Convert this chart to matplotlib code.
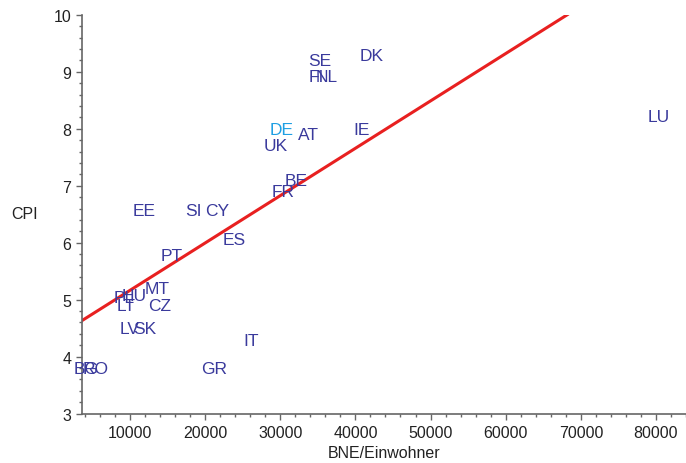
import matplotlib.pyplot as plt
from matplotlib.ticker import MultipleLocator

# country codes, GNI per capita (BNE/Einwohner) and CPI
laender = ['SE', 'FI', 'NL', 'DK', 'DE', 'AT', 'UK', 'IE', 'BE', 'FR', 'LU',
           'EE', 'SI', 'CY', 'ES', 'PT', 'MT', 'HU', 'PL', 'LT', 'CZ', 'LV',
           'SK', 'IT', 'GR', 'BG', 'RO']
bne = [35300, 34760, 36220, 42210, 30230, 33690, 29430, 40870, 32090, 30360, 80400,
       11860, 18380, 21580, 23840, 15590, 13590, 10530, 9200, 9470, 13990, 10000,
       11990, 26100, 21180, 4150, 5480]
cpi = [9.19, 8.91, 8.91, 9.29, 7.99, 7.89, 7.70, 7.99, 7.10, 6.89, 8.21,
       6.57, 6.57, 6.57, 6.06, 5.78, 5.19, 5.07, 5.03, 4.89, 4.89, 4.49,
       4.49, 4.28, 3.79, 3.79, 3.79]

# regression line
line_x = [3570, 68200]
line_y = [4.63, 10.0]

plt.rcParams['font.family'] = ['Liberation Sans', 'DejaVu Sans']

fig = plt.figure(figsize=(6.86, 4.64), dpi=100)
ax = fig.add_axes([0.1191, 0.1063, 0.8809, 0.8598])

for land, x, y in zip(laender, bne, cpi):
    farbe = '#1E9FE3' if land == 'DE' else '#3A3A9C'
    ax.text(x, y, land, color=farbe, fontsize=12.5, ha='center', va='center')

ax.plot(line_x, line_y, color='#E82020', linewidth=2.2)

ax.set_xlim(3570, 84000)
ax.set_ylim(3, 10)
ax.xaxis.set_major_locator(MultipleLocator(10000))
ax.xaxis.set_minor_locator(MultipleLocator(2000))
ax.yaxis.set_major_locator(MultipleLocator(1))
ax.yaxis.set_minor_locator(MultipleLocator(0.2))

for s in ['top', 'right']:
    ax.spines[s].set_visible(False)
for s in ['left', 'bottom']:
    ax.spines[s].set_color('#666666')
    ax.spines[s].set_linewidth(1.2)
ax.tick_params(which='major', length=4, width=1, color='#666666', labelsize=11.5, labelcolor='#222222')
ax.tick_params(which='minor', length=2, width=1, color='#666666')
ax.tick_params(axis='x', pad=4)

ax.set_xlabel('BNE/Einwohner', fontsize=11.5, color='#222222', labelpad=4)
ax.set_ylabel('CPI', fontsize=11.5, color='#222222', rotation=0, ha='center', va='center')
ax.yaxis.set_label_coords(-0.094, 0.503)

fig.savefig('out.png', dpi=100)
